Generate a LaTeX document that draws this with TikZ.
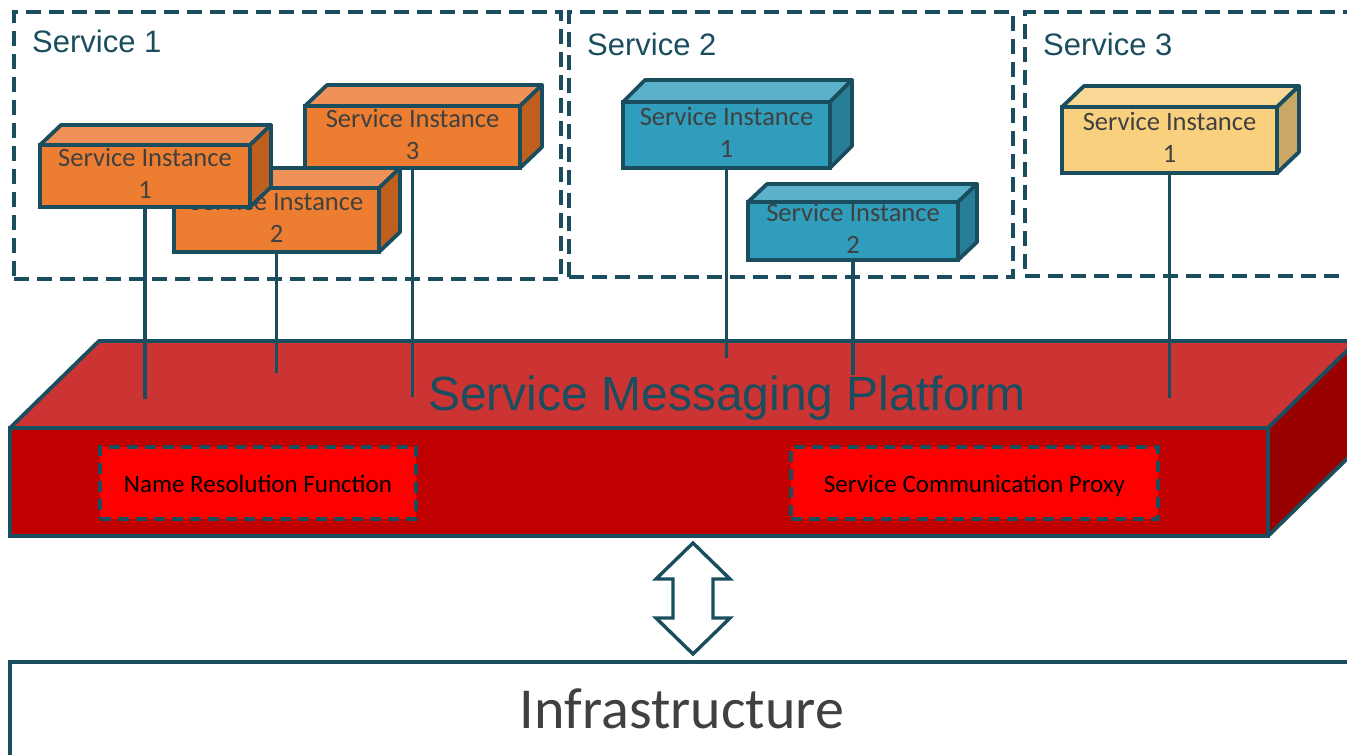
\documentclass[tikz,border=0pt]{standalone}
\usepackage{fontspec}
\setmainfont{Liberation Sans}
\newfontfamily\carlito{Carlito}
\usetikzlibrary{calc}

% outline and text colours
\definecolor{edge}{HTML}{1A4E5E}
\definecolor{txtgray}{HTML}{404040}
% orange instances: front / top / side
\definecolor{orgF}{HTML}{ED7D31}
\definecolor{orgT}{HTML}{F0915A}
\definecolor{orgS}{HTML}{C0601F}
% blue instances
\definecolor{bluF}{HTML}{2F9DBB}
\definecolor{bluT}{HTML}{5BB0CA}
\definecolor{bluS}{HTML}{287E97}
% yellow instances
\definecolor{yelF}{HTML}{F9D07D}
\definecolor{yelT}{HTML}{FAD896}
\definecolor{yelS}{HTML}{C9A865}
% messaging platform slab
\definecolor{platT}{HTML}{CC3333}
\definecolor{platF}{HTML}{C00000}
\definecolor{platS}{HTML}{990000}
\definecolor{funcred}{HTML}{FF0000}

\tikzset{
  svcbox/.style={draw=edge, line width=3.6pt, dash pattern=on 15pt off 8pt,
    rectangle, inner sep=0pt, outer sep=0pt},
  svclabel/.style={anchor=base west, text=edge, font=\fontsize{31}{35}\selectfont, inner sep=0pt},
  inst/.style={draw=edge, line width=3.8pt, rectangle, inner sep=0pt, outer sep=0pt},
  insttext/.style={align=center, text=txtgray, inner sep=0pt,
    font=\carlito\fontsize{26.5}{32}\selectfont},
  instedge/.style={draw=edge, line width=3.8pt, line join=round},
  conn/.style={draw=edge, line width=3.6pt},
  funcbox/.style={draw=edge, fill=funcred, line width=4pt, dash pattern=on 11pt off 7pt,
    rectangle, inner sep=0pt, outer sep=0pt, text=black, text height=22pt, text depth=4pt,
    font=\carlito\fontsize{25}{29}\selectfont},
}

% one 3D service instance: name, centre, width, height, depth x, depth y, colour prefix, text
\newcommand\instbox[8]{%
  \node[inst, fill=#7F, minimum width=#3, minimum height=#4] (#1) at #2 {};
  \draw[instedge, fill=#7T] (#1.north west) -- ++(#5,-#6)
    -- ([shift={(#5,-#6)}]#1.north east) -- (#1.north east) -- cycle;
  \draw[instedge, fill=#7S] (#1.north east) -- ([shift={(#5,-#6)}]#1.north east)
    -- ([shift={(#5,-#6)}]#1.south east) -- (#1.south east) -- cycle;
  \node[insttext] (#1-text) at ([yshift=3pt]#1.center) {#8};
}

\begin{document}
\begin{tikzpicture}[x=1pt, y=-1pt]
\useasboundingbox (0,0) rectangle (1347,755);
\clip (0,0) rectangle (1347,755);

% service groups
\node[svcbox, minimum width=547pt, minimum height=267pt] (svc1) at (287.5,145.5) {};
\node[svcbox, minimum width=444pt, minimum height=265pt] (svc2) at (791,144.5) {};
\node[svcbox, minimum width=345pt, minimum height=264pt] (svc3) at (1197.5,144) {};
\node[svclabel] (svc1label) at (32,52) {Service 1};
\node[svclabel] (svc2label) at (587,55) {Service 2};
\node[svclabel] (svc3label) at (1043,55) {Service 3};

% service instances
\instbox{s1i2}{(276.5,220)}{205pt}{64pt}{21}{20}{org}{Service Instance\\2}
\instbox{s1i1}{(145,176)}{210pt}{62pt}{21}{20}{org}{Service Instance\\1}
\instbox{s1i3}{(412.5,137)}{215pt}{62pt}{22}{21}{org}{Service Instance\\3}
\instbox{s2i1}{(726.5,135)}{207pt}{66pt}{22}{22}{blu}{Service Instance\\1}
\instbox{s2i2}{(853,231)}{210pt}{58pt}{19}{18}{blu}{Service Instance\\2}
\instbox{s3i1}{(1169.5,140)}{215pt}{66pt}{22}{21}{yel}{Service Instance\\1}

% messaging platform slab
\node[draw=edge, line width=3.8pt, fill=platF, rectangle, inner sep=0pt, outer sep=0pt,
  minimum width=1258pt, minimum height=108pt] (smp) at (639,482) {};
\draw[instedge, fill=platT] (smp.north west) -- ++(89,-87)
  -- ([shift={(89,-87)}]smp.north east) -- (smp.north east) -- cycle;
\draw[instedge, fill=platS] (smp.north east) -- ([shift={(89,-87)}]smp.north east)
  -- ([shift={(89,-87)}]smp.south east) -- (smp.south east) -- cycle;
\node[anchor=base, text=edge, inner sep=0pt, font=\fontsize{48}{52}\selectfont]
  (smptitle) at (727,410) {Service Messaging Platform};

% platform functions
\node[funcbox, minimum width=316pt, minimum height=72pt] (nrf) at (258,483) {Name Resolution Function};
\node[funcbox, minimum width=367pt, minimum height=72pt] (scp) at (974.5,483) {Service Communication Proxy};

% attachment points on the platform
\coordinate (p11) at (145,399);
\coordinate (p12) at (276.5,373);
\coordinate (p13) at (412.5,397);
\coordinate (p21) at (726.5,358);
\coordinate (p22) at (853,375);
\coordinate (p31) at (1169.5,398);
\draw[conn] (s1i1.south) -- (p11);
\draw[conn] (s1i2.south) -- (p12);
\draw[conn] (s1i3.south) -- (p13);
\draw[conn] (s2i1.south) -- (p21);
\draw[conn] (s2i2.south) -- (p22);
\draw[conn] (s3i1.south) -- (p31);

% infrastructure layer
\node[draw=edge, line width=3.6pt, rectangle, inner sep=0pt, outer sep=0pt,
  minimum width=1360pt, minimum height=116pt] (infra) at (690,720) {};
\node[anchor=base, text=txtgray, inner sep=0pt, font=\carlito\fontsize{58}{62}\selectfont]
  (infratitle) at (682,728) {Infrastructure};

% two-way block arrow between platform and infrastructure
\draw[draw=edge, fill=white, line width=3.4pt, line join=miter]
  (693,543) -- (730,579) -- (713,579) -- (713,618) -- (730,618) -- (693,654)
  -- (656,618) -- (673,618) -- (673,579) -- (656,579) -- cycle;
\end{tikzpicture}
\end{document}
